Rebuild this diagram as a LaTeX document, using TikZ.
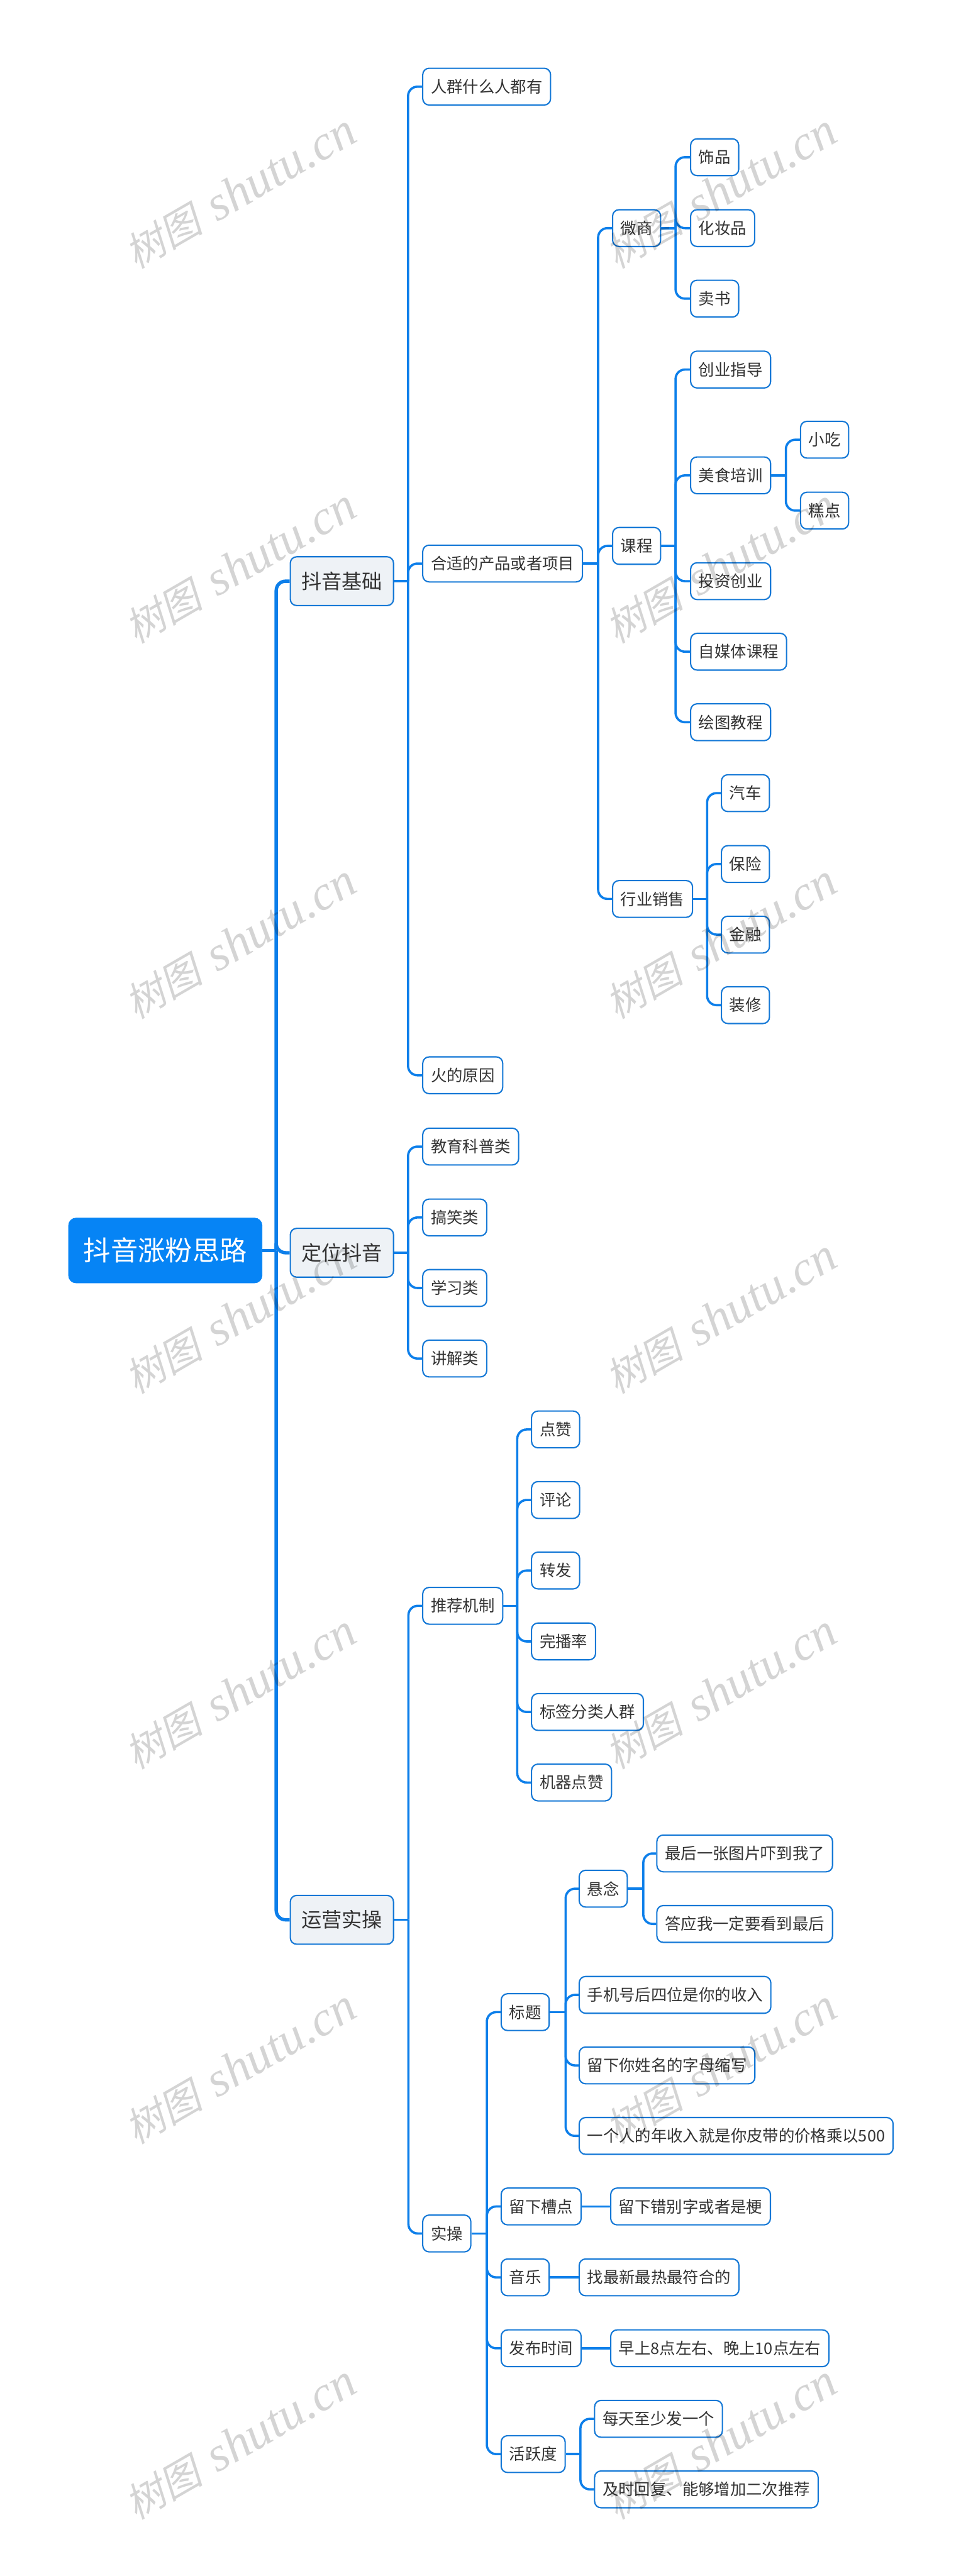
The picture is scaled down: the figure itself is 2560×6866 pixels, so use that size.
\documentclass[tikz,border=0pt]{standalone}
\usepackage{fontspec}
\setmainfont{Noto Sans CJK SC}
\newfontfamily\wmcjk[FakeSlant=0.22]{Noto Sans CJK SC}
\newfontfamily\wmlatin{Liberation Serif}
\definecolor{linkblue}{HTML}{0D7FEA}
\definecolor{rootblue}{HTML}{0684F5}
\definecolor{edgeblue}{HTML}{1478D6}
\definecolor{topicgrey}{HTML}{EEF2F6}
\definecolor{inkgrey}{HTML}{333333}
\tikzset{
    rootnode/.style={anchor=west,fill=rootblue,draw=rootblue,text=white,rounded corners=0.2cm,minimum height=1.73cm,inner xsep=0.4cm,font=\fontsize{20.65}{24}\selectfont},
    topic/.style={anchor=west,fill=topicgrey,draw=edgeblue,line width=0.035cm,text=inkgrey,rounded corners=0.17cm,minimum height=1.3cm,inner xsep=0.295cm,font=\fontsize{15.36}{18}\selectfont},
    leaf/.style={anchor=west,fill=white,draw=edgeblue,line width=0.035cm,text=inkgrey,rounded corners=0.17cm,minimum height=0.98cm,inner xsep=0.215cm,font=\fontsize{12.09}{14}\selectfont},
    mainlink/.style={draw=linkblue,line width=0.09cm},
    sublink/.style={draw=linkblue,line width=0.06cm},
    elbow/.style={rounded corners=0.25cm},
    wmark/.style={rotate=30,text=black,text opacity=0.17,inner sep=0pt}
}
\begin{document}
\begin{tikzpicture}[x=0.01cm,y=-0.01cm]
    \useasboundingbox (0,0) rectangle (2560,6866);

    \node[rootnode] (root) at (182,3333) {抖音涨粉思路};
    \node[topic] (base) at (772,1549) {抖音基础};
    \node[topic] (position) at (772,3339) {定位抖音};
    \node[topic] (ops) at (772,5117) {运营实操};

    \node[leaf] (crowd) at (1125,231) {人群什么人都有};
    \node[leaf] (goods) at (1125,1502) {合适的产品或者项目};
    \node[leaf] (fire) at (1125,2866) {火的原因};
    \node[leaf] (wechat) at (1631,608) {微商};
    \node[leaf] (course) at (1631,1455) {课程};
    \node[leaf] (sales) at (1631,2396) {行业销售};
    \node[leaf] (jewel) at (1839,419) {饰品};
    \node[leaf] (makeup) at (1839,608) {化妆品};
    \node[leaf] (books) at (1839,796) {卖书};
    \node[leaf] (startup) at (1839,985) {创业指导};
    \node[leaf] (food) at (1839,1267) {美食培训};
    \node[leaf] (invest) at (1839,1549) {投资创业};
    \node[leaf] (media) at (1839,1737) {自媒体课程};
    \node[leaf] (drawing) at (1839,1925) {绘图教程};
    \node[leaf] (snack) at (2132,1172) {小吃};
    \node[leaf] (pastry) at (2132,1361) {糕点};
    \node[leaf] (car) at (1921,2114) {汽车};
    \node[leaf] (insure) at (1921,2303) {保险};
    \node[leaf] (finance) at (1921,2491) {金融};
    \node[leaf] (decor) at (1921,2679) {装修};

    \node[leaf] (science) at (1125,3056) {教育科普类};
    \node[leaf] (funny) at (1125,3245) {搞笑类};
    \node[leaf] (study) at (1125,3433) {学习类};
    \node[leaf] (explain) at (1125,3621) {讲解类};

    \node[leaf] (recommend) at (1125,4280) {推荐机制};
    \node[leaf] (like) at (1415,3810) {点赞};
    \node[leaf] (comment) at (1415,3998) {评论};
    \node[leaf] (share) at (1415,4186) {转发};
    \node[leaf] (finish) at (1415,4375) {完播率};
    \node[leaf] (tags) at (1415,4563) {标签分类人群};
    \node[leaf] (robot) at (1415,4751) {机器点赞};

    \node[leaf] (practice) at (1125,5953) {实操};
    \node[leaf] (title) at (1334,5363) {标题};
    \node[leaf] (tucao) at (1334,5881) {留下槽点};
    \node[leaf] (music) at (1334,6070) {音乐};
    \node[leaf] (time) at (1334,6259) {发布时间};
    \node[leaf] (active) at (1334,6541) {活跃度};
    \node[leaf] (suspense) at (1542,5034) {悬念};
    \node[leaf] (phone) at (1542,5317) {手机号后四位是你的收入};
    \node[leaf] (letters) at (1542,5505) {留下你姓名的字母缩写};
    \node[leaf] (belt) at (1542,5693) {一个人的年收入就是你皮带的价格乘以500};
    \node[leaf] (scared) at (1749,4940) {最后一张图片吓到我了};
    \node[leaf] (promise) at (1749,5128) {答应我一定要看到最后};
    \node[leaf] (typo) at (1626,5881) {留下错别字或者是梗};
    \node[leaf] (hot) at (1542,6070) {找最新最热最符合的};
    \node[leaf] (hours) at (1626,6259) {早上8点左右、晚上10点左右};
    \node[leaf] (daily) at (1583,6447) {每天至少发一个};
    \node[leaf] (reply) at (1583,6635) {及时回复、能够增加二次推荐};

    \draw[mainlink] (root.east) -- ++(37,0) coordinate (busroot);
    \foreach \kid in {base,position,ops}
        \draw[mainlink,elbow] (busroot) |- (\kid.west);

    \draw[sublink] (base.east) -- ++(37,0) coordinate (busbase);
    \foreach \kid in {crowd,goods,fire}
        \draw[sublink,elbow] (busbase) |- (\kid.west);
    \draw[sublink] (goods.east) -- ++(40,0) coordinate (busgoods);
    \foreach \kid in {wechat,course,sales}
        \draw[sublink,elbow] (busgoods) |- (\kid.west);
    \draw[sublink] (wechat.east) -- ++(38,0) coordinate (buswechat);
    \foreach \kid in {jewel,makeup,books}
        \draw[sublink,elbow] (buswechat) |- (\kid.west);
    \draw[sublink] (course.east) -- ++(38,0) coordinate (buscourse);
    \foreach \kid in {startup,food,invest,media,drawing}
        \draw[sublink,elbow] (buscourse) |- (\kid.west);
    \draw[sublink] (food.east) -- ++(39,0) coordinate (busfood);
    \foreach \kid in {snack,pastry}
        \draw[sublink,elbow] (busfood) |- (\kid.west);
    \draw[sublink] (sales.east) -- ++(37,0) coordinate (bussales);
    \foreach \kid in {car,insure,finance,decor}
        \draw[sublink,elbow] (bussales) |- (\kid.west);

    \draw[sublink] (position.east) -- ++(37,0) coordinate (busposition);
    \foreach \kid in {science,funny,study,explain}
        \draw[sublink,elbow] (busposition) |- (\kid.west);

    \draw[sublink] (ops.east) -- ++(38,0) coordinate (busops);
    \foreach \kid in {recommend,practice}
        \draw[sublink,elbow] (busops) |- (\kid.west);
    \draw[sublink] (recommend.east) -- ++(37,0) coordinate (busrecommend);
    \foreach \kid in {like,comment,share,finish,tags,robot}
        \draw[sublink,elbow] (busrecommend) |- (\kid.west);
    \draw[sublink] (practice.east) -- ++(41,0) coordinate (buspractice);
    \foreach \kid in {title,tucao,music,time,active}
        \draw[sublink,elbow] (buspractice) |- (\kid.west);
    \draw[sublink] (title.east) -- ++(42,0) coordinate (bustitle);
    \foreach \kid in {suspense,phone,letters,belt}
        \draw[sublink,elbow] (bustitle) |- (\kid.west);
    \draw[sublink] (suspense.east) -- ++(41,0) coordinate (bussuspense);
    \foreach \kid in {scared,promise}
        \draw[sublink,elbow] (bussuspense) |- (\kid.west);
    \draw[sublink] (active.east) -- ++(39,0) coordinate (busactive);
    \foreach \kid in {daily,reply}
        \draw[sublink,elbow] (busactive) |- (\kid.west);
    \draw[sublink] (tucao.east) -- (typo.west);
    \draw[sublink] (music.east) -- (hot.west);
    \draw[sublink] (time.east) -- (hours.west);

    \foreach \wy in {510,1510,2510,3510,4510,5510,6510}
        \foreach \wx in {640,1921}
            \node[wmark] (wm\wx\wy) at (\wx,\wy) {{\fontsize{30}{36}\wmcjk 树图}\hspace{0.4cm}{\fontsize{37}{40}\wmlatin\itshape shutu.cn}};
\end{tikzpicture}
\end{document}
